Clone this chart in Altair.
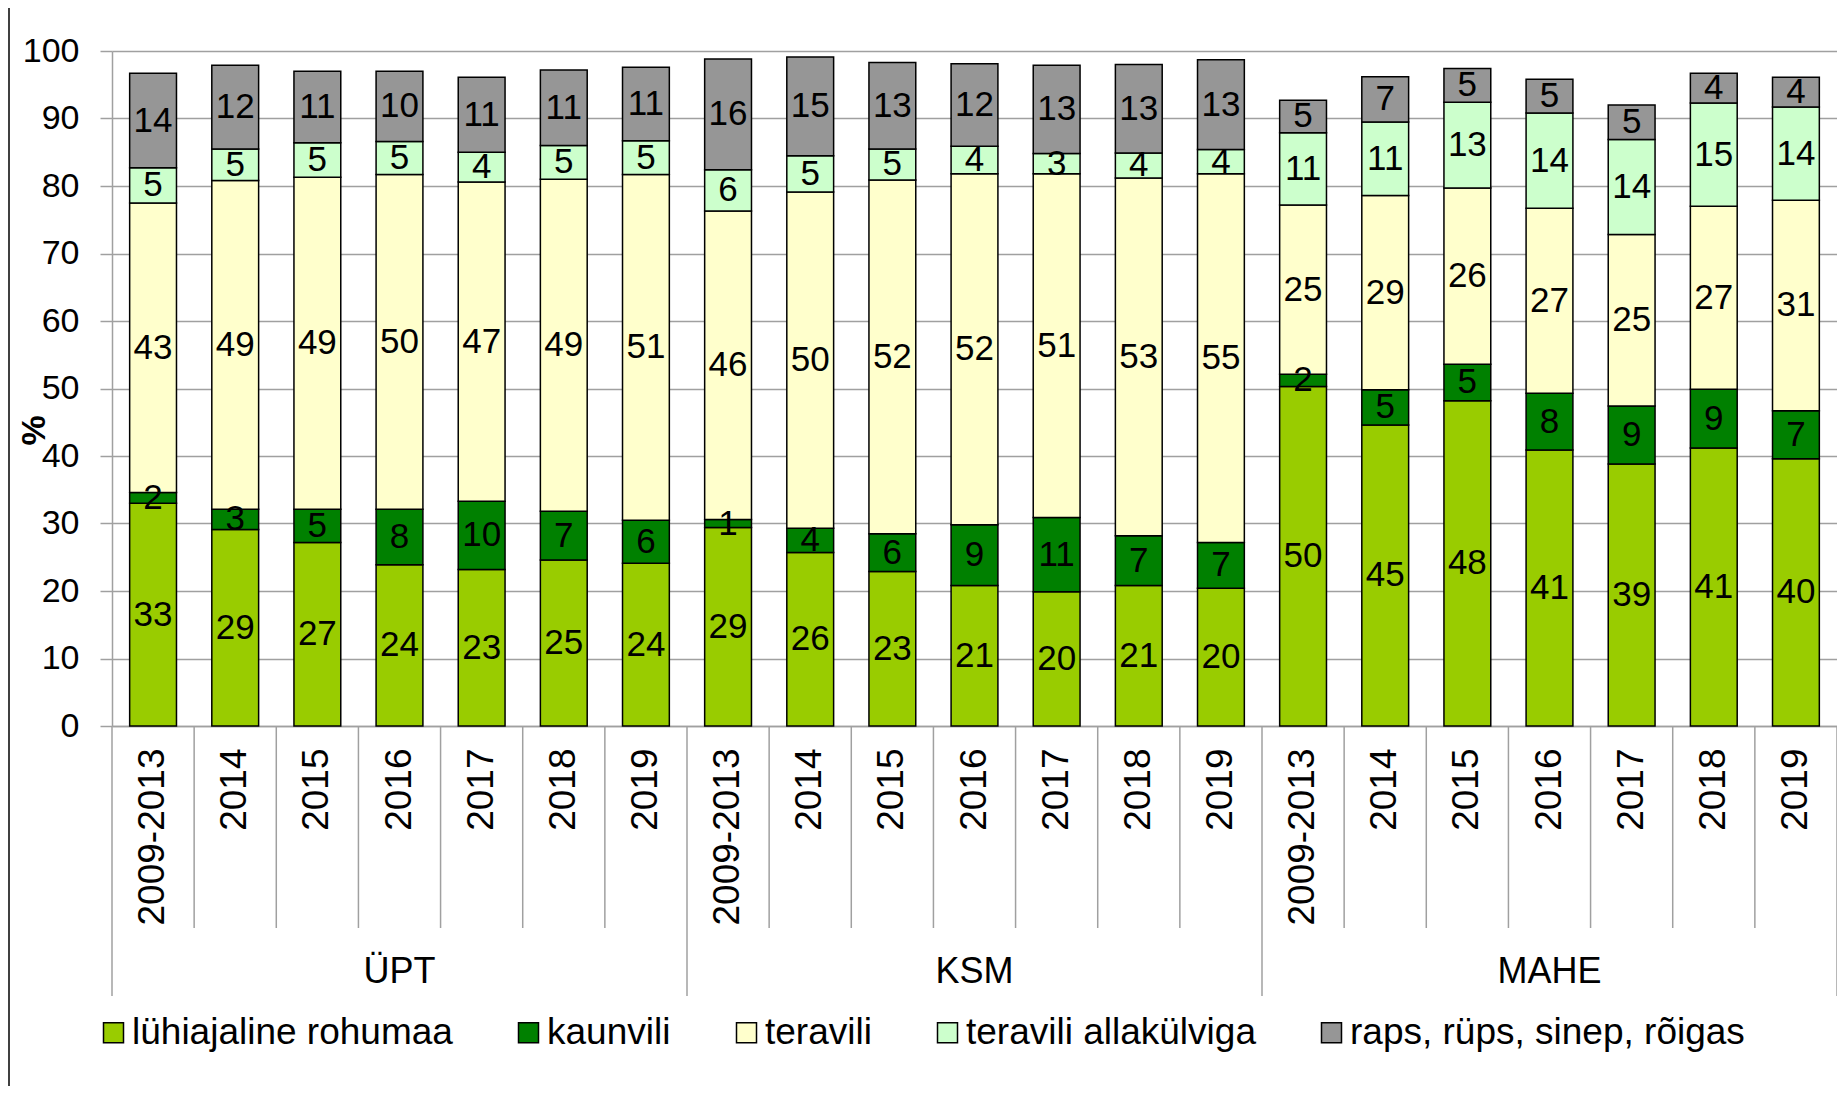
import math
import altair as alt
import pandas as pd

groups = ["ÜPT", "KSM", "MAHE"]
years = ["2009-2013", "2014", "2015", "2016", "2017", "2018", "2019"]
series = ["lühiajaline rohumaa", "kaunvili", "teravili", "teravili allakülviga", "raps, rüps, sinep, rõigas"]
colors = ["#99CC00", "#008000", "#FFFFCC", "#CCFFCC", "#969696"]

# values in order: ÜPT years, KSM years, MAHE years
rohumaa = [33.0, 29.1, 27.2, 23.9, 23.2, 24.6, 24.1,
           29.4, 25.7, 22.9, 20.8, 19.9, 20.8, 20.4,
           50.3, 44.6, 48.2, 40.9, 38.8, 41.2, 39.6]
kaunvili = [1.6, 3.0, 4.9, 8.2, 10.1, 7.2, 6.4,
            1.2, 3.6, 5.6, 9.0, 11.0, 7.4, 6.8,
            1.8, 5.2, 5.4, 8.4, 8.6, 8.7, 7.1]
teravili = [42.9, 48.7, 49.2, 49.6, 47.3, 49.2, 51.2,
            45.7, 49.8, 52.4, 52.0, 50.9, 53.0, 54.6,
            25.1, 28.8, 26.1, 27.4, 25.4, 27.1, 31.2]
allakulviga = [5.2, 4.7, 5.1, 4.9, 4.4, 5.0, 5.0,
               6.1, 5.4, 4.6, 4.1, 3.0, 3.7, 3.6,
               10.7, 10.9, 12.7, 14.1, 14.1, 15.3, 13.8]
raps = [14.0, 12.4, 10.6, 10.4, 11.1, 11.2, 10.9,
        16.4, 14.6, 12.8, 12.2, 13.1, 13.1, 13.3,
        4.8, 6.7, 5.0, 5.0, 5.1, 4.4, 4.4]

keys = [f"{g}|{y}" for g in groups for y in years]
all_vals = [rohumaa, kaunvili, teravili, allakulviga, raps]

rows = []
for i, k in enumerate(keys):
    base = 0.0
    for s, vals in zip(series, all_vals):
        v = vals[i]
        rows.append(dict(key=k, series=s, start=base, end=base + v,
                         mid=base + v / 2, label=str(int(math.floor(v + 0.5)))))
        base += v
df = pd.DataFrame(rows)

W = 1725
H = 675
PAD = 0.43
STEP = W / len(keys)
HALF_GAP = PAD * STEP / 2
GRID = "#A0A0A0"

x_scale = alt.Scale(paddingInner=PAD, paddingOuter=PAD / 2)
x_enc = alt.X(
    "key:N", sort=keys, scale=x_scale,
    axis=alt.Axis(title=None, labelExpr="split(datum.value, '|')[1]",
                  labelAngle=270, labelAlign="right", labelBaseline="middle",
                  labelPadding=22, ticks=False, domainColor=GRID, domainWidth=1.5,
                  labelFontSize=37, labelColor="black", labelLimit=400,
                  labelOverlap=False),
)

y_axis = alt.Axis(values=list(range(0, 101, 10)), title="%", titleFontSize=34,
                  titleFontWeight="bold", titleAngle=270, titleX=-78, titleY=379,
                  titleAlign="center", titleBaseline="middle", titleColor="black",
                  labelFontSize=34, labelPadding=21, labelColor="black",
                  tickSize=12, tickColor=GRID, tickWidth=1.5,
                  domainColor=GRID, domainWidth=1.5, gridColor=GRID, gridWidth=1.5)
y_scale = alt.Scale(domain=[0, 100], nice=False, zero=True)

bars = alt.Chart(df).mark_bar(stroke="black", strokeWidth=1.5).encode(
    x=x_enc,
    y=alt.Y("start:Q", scale=y_scale, axis=y_axis),
    y2="end:Q",
    color=alt.Color("series:N", sort=series,
                    scale=alt.Scale(domain=series, range=colors),
                    legend=alt.Legend(title=None, orient="none", legendX=-17, legendY=963,
                                      direction="horizontal", columns=5,
                                      symbolType="square", symbolSize=400,
                                      symbolStrokeColor="black", symbolStrokeWidth=1.5,
                                      symbolOpacity=1,
                                      labelFontSize=37, labelOffset=0, columnPadding=57,
                                      labelLimit=0, padding=0, labelColor="black")),
)

labels = alt.Chart(df).mark_text(fontSize=35, color="black", baseline="middle",
                                 align="center").encode(
    x=x_enc,
    y=alt.Y("mid:Q", scale=y_scale, axis=y_axis),
    text="label:N",
)

# separators between categories (hierarchical axis)
sep_rows = []
for gi, g in enumerate(groups):
    for yi, yv in enumerate(years):
        sep_rows.append(dict(key=f"{g}|{yv}", long=(yi == 0)))
sep = pd.DataFrame(sep_rows)
short_sep = alt.Chart(sep[~sep["long"]]).mark_rule(
    color=GRID, strokeWidth=1.5, xOffset=-HALF_GAP).encode(
    x=alt.X("key:N", sort=keys, bandPosition=0, scale=x_scale),
    y=alt.value(H), y2=alt.value(H + 202),
)
long_sep = alt.Chart(sep[sep["long"]]).mark_rule(
    color=GRID, strokeWidth=1.5, xOffset=-HALF_GAP).encode(
    x=alt.X("key:N", sort=keys, bandPosition=0, scale=x_scale),
    y=alt.value(H), y2=alt.value(H + 270),
)
end_sep = alt.Chart(pd.DataFrame({"key": [keys[-1]]})).mark_rule(
    color=GRID, strokeWidth=1.5, xOffset=HALF_GAP).encode(
    x=alt.X("key:N", sort=keys, bandPosition=1, scale=x_scale),
    y=alt.value(H), y2=alt.value(H + 270),
)

grp = pd.DataFrame({"key": [f"{g}|2016" for g in groups], "group": groups})
group_labels = alt.Chart(grp).mark_text(fontSize=36, color="black", baseline="middle",
                                        align="center").encode(
    x=alt.X("key:N", sort=keys, scale=x_scale),
    y=alt.value(921),
    text="group:N",
)

border = alt.Chart(pd.DataFrame({"a": [0]})).mark_rule(color="#404040", strokeWidth=2).encode(
    x=alt.value(-103), y=alt.value(-51), y2=alt.value(1100),
)

chart = alt.layer(bars, labels, short_sep, long_sep, end_sep, group_labels, border).properties(
    width=W, height=H,
    padding={"left": 104, "top": 43, "right": 0, "bottom": 360},
    autosize=alt.AutoSizeParams(type="none"),
).configure(font="Liberation Sans").configure_view(stroke=None)

chart.save("out.html", embed_options={"renderer": "svg", "actions": False})
